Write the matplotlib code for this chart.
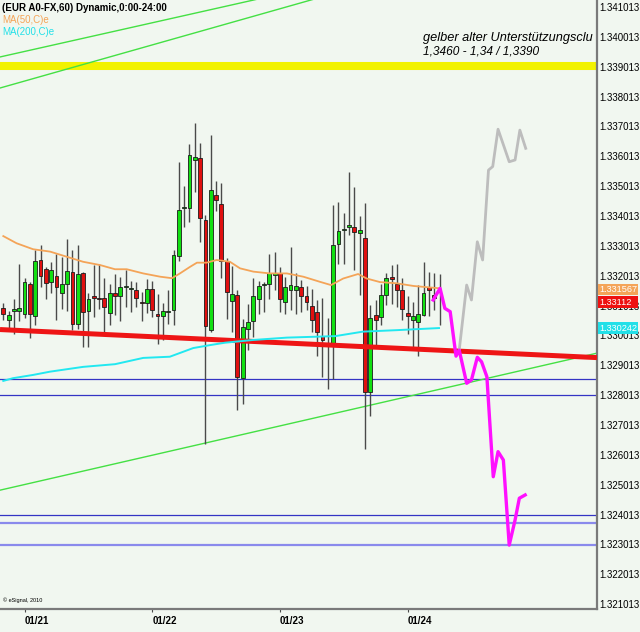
import matplotlib.pyplot as plt
from matplotlib.patches import Rectangle
from matplotlib.transforms import blended_transform_factory

plt.rcParams['font.family'] = ['Liberation Sans', 'DejaVu Sans']

# hourly EUR candles
opens = [1.33094, 1.33052, 1.33083, 1.33083, 1.33072, 1.33175, 1.33068, 1.33253, 1.33225, 1.33180,
         1.33200, 1.33144, 1.33172, 1.33215, 1.33041, 1.33212, 1.33083, 1.33135, 1.33128, 1.33128,
         1.33075, 1.33143, 1.33135, 1.33164, 1.33157, 1.33155, 1.33113, 1.33110, 1.33158, 1.33072,
         1.33068, 1.33079, 1.33085, 1.33269, 1.33428, 1.33429, 1.33588, 1.33594, 1.33387, 1.33019,
         1.33471, 1.33440, 1.33250, 1.33117, 1.33136, 1.32860, 1.33024, 1.33050, 1.33123, 1.33171,
         1.33175, 1.33205, 1.33211, 1.33112, 1.33152, 1.33152, 1.33162, 1.33134, 1.33099, 1.33081,
         1.33000, 1.32972, 1.32969, 1.33307, 1.33354, 1.33363, 1.33365, 1.33346, 1.33329, 1.32812,
         1.33070, 1.33064, 1.33136, 1.33198, 1.33175, 1.33153, 1.33077, 1.33052, 1.33045, 1.33071,
         1.33162, 1.33136, 1.33153]
highs = [1.33110, 1.33083, 1.33122, 1.33240, 1.33192, 1.33181, 1.33287, 1.33305, 1.33231, 1.33246,
         1.33274, 1.33265, 1.33323, 1.33287, 1.33304, 1.33214, 1.33144, 1.33237, 1.33239, 1.33192,
         1.33175, 1.33206, 1.33198, 1.33220, 1.33184, 1.33181, 1.33147, 1.33189, 1.33184, 1.33139,
         1.33110, 1.33153, 1.33289, 1.33583, 1.33501, 1.33644, 1.33714, 1.33647, 1.33404, 1.33672,
         1.33519, 1.33512, 1.33259, 1.33233, 1.33153, 1.33058, 1.33108, 1.33192, 1.33184, 1.33181,
         1.33274, 1.33281, 1.33231, 1.33198, 1.33298, 1.33211, 1.33186, 1.33166, 1.33158, 1.33119,
         1.33125, 1.33061, 1.33438, 1.33449, 1.33412, 1.33549, 1.33499, 1.33401, 1.33446, 1.33103,
         1.33119, 1.33175, 1.33209, 1.33237, 1.33242, 1.33192, 1.33133, 1.33114, 1.33170, 1.33248,
         1.33214, 1.33209, 1.33206]
lows = [1.33052, 1.33017, 1.33005, 1.33050, 1.33061, 1.32993, 1.33036, 1.33164, 1.33123, 1.33144,
        1.33052, 1.33091, 1.33083, 1.33019, 1.33024, 1.32963, 1.32963, 1.33064, 1.33091, 1.33013,
        1.33036, 1.33069, 1.33050, 1.33097, 1.33080, 1.33095, 1.33050, 1.33075, 1.33064, 1.32974,
        1.32985, 1.33041, 1.33036, 1.33251, 1.33363, 1.33382, 1.33482, 1.33315, 1.32639, 1.33013,
        1.33419, 1.33195, 1.33058, 1.33013, 1.32751, 1.32771, 1.32952, 1.32996, 1.33072, 1.33080,
        1.33122, 1.33153, 1.33080, 1.33072, 1.33086, 1.33072, 1.33080, 1.33086, 1.33013, 1.32932,
        1.32862, 1.32823, 1.32857, 1.33242, 1.33242, 1.33337, 1.33222, 1.33136, 1.32622, 1.32731,
        1.32969, 1.33036, 1.33103, 1.33106, 1.33097, 1.33052, 1.33005, 1.32957, 1.32932, 1.33066,
        1.33066, 1.33086, 1.33036]
closes = [1.33072, 1.33070, 1.33089, 1.33093, 1.33180, 1.33072, 1.33250, 1.33202, 1.33177, 1.33220,
          1.33164, 1.33173, 1.33218, 1.33041, 1.33206, 1.33080, 1.33122, 1.33128, 1.33122, 1.33097,
          1.33142, 1.33135, 1.33164, 1.33166, 1.33160, 1.33128, 1.33110, 1.33158, 1.33088, 1.33068,
          1.33083, 1.33081, 1.33271, 1.33421, 1.33430, 1.33607, 1.33600, 1.33393, 1.33033, 1.33490,
          1.33454, 1.33251, 1.33147, 1.33139, 1.32862, 1.33030, 1.33046, 1.33133, 1.33166, 1.33173,
          1.33211, 1.33211, 1.33123, 1.33164, 1.33170, 1.33166, 1.33134, 1.33114, 1.33052, 1.33014,
          1.32985, 1.32969, 1.33304, 1.33352, 1.33356, 1.33371, 1.33348, 1.33356, 1.32812, 1.33061,
          1.33052, 1.33136, 1.33192, 1.33189, 1.33153, 1.33091, 1.33068, 1.33068, 1.33072, 1.33142,
          1.33153, 1.33125, 1.33147]

# moving averages (bar index, value) as drawn
ma50_x = [0, 2.5, 5.6, 8.8, 11.9, 15.0, 18.2, 21.0, 23.2, 26.3, 29.5, 31.7, 33.2, 35.1, 36.4, 38.2,
          40.1, 42.6, 44.5, 47.0, 50.1, 53.3, 56.4, 59.5, 61.6, 63.9, 66.7, 68.3, 70.8, 73.9, 77.1, 80.2, 82.1]
ma50_y = [1.33334, 1.33310, 1.33290, 1.33282, 1.33265, 1.33248, 1.33237, 1.33223, 1.33223, 1.33209,
          1.33198, 1.33193, 1.33209, 1.33231, 1.33245, 1.33245, 1.33254, 1.33248, 1.33226, 1.33215,
          1.33209, 1.33209, 1.33198, 1.33181, 1.33170, 1.33192, 1.33207, 1.33192, 1.33180, 1.33176,
          1.33167, 1.33162, 1.33159]
ma200_x = [0, 1.8, 5.6, 8.8, 15.0, 21.0, 26.3, 31.3, 35.7, 38.9, 41.7, 46.9, 53.3, 62.4, 67.6, 74.0, 81.9]
ma200_y = [1.32849, 1.32858, 1.32869, 1.32880, 1.32896, 1.32905, 1.32926, 1.32930, 1.32959, 1.32969,
           1.32977, 1.32986, 1.32994, 1.32999, 1.33014, 1.33019, 1.33026]

# hand drawn scenarios
down_x = [80.8, 82.1, 83.0, 84.0, 85.1, 85.7, 87.1, 88.0, 89.1, 89.9, 90.9, 92.1, 93.0, 94.0, 95.1, 96.2, 97.0, 98.1]
down_y = [1.33120, 1.33159, 1.33092, 1.33081, 1.32932, 1.32952, 1.32841, 1.32852, 1.32928, 1.32913,
          1.32863, 1.32528, 1.32612, 1.32584, 1.32299, 1.32383, 1.32456, 1.32467]
up_x = [85.7, 87.1, 88.0, 89.1, 90.1, 91.2, 92.0, 93.0, 95.1, 96.2, 97.1, 98.2]
up_y = [1.32952, 1.33170, 1.33120, 1.33315, 1.33254, 1.33555, 1.33567, 1.33692, 1.33583, 1.33589, 1.33689, 1.33628]

# trend lines: (x0, x1), (y0, y1)
red_trend = ([-0.62, 111.6], [1.33021, 1.32927])
green_low = ([-0.62, 111.6], [1.32483, 1.32942])
green_up1 = ([-0.62, 111.6], [1.33934, 1.34383])
green_up2 = ([-0.62, 111.6], [1.33830, 1.34396])

yellow_level = 1.33904
dark_levels = [1.32854, 1.32801, 1.32400]
light_levels = [1.32374, 1.32299]

date_pos = [4, 28, 52, 76]
date_labels = ['01/21', '01/22', '01/23', '01/24']
ytick_vals = [1.321013 + k * 0.001 for k in range(21)]

# last value tags on the price scale
tag_vals = [1.33156, 1.33113, 1.33026]
tag_texts = ['1.331567', '1.33112', '1.330242']
tag_colors = ['#f4a458', '#ee1111', '#22e0e8']

BG = '#f1f7f0'

fig = plt.figure(figsize=(6.4, 6.32), dpi=100, facecolor=BG)
ax = fig.add_axes([0, 23 / 632, 597 / 640, 609 / 632])
ax.set_facecolor(BG)
ax.set_xlim(-0.62, 111.6)
ax.set_ylim(1.32085, 1.341248)

# levels and trend lines
ax.axhline(yellow_level, color='#f2f200', lw=5.8, zorder=1)
for lv in dark_levels:
    ax.axhline(lv, color='#3434c4', lw=0.9, zorder=1)
for lv in light_levels:
    ax.axhline(lv, color='#8a8aec', lw=1.6, zorder=1)
for xx, yy in (green_low, green_up1, green_up2):
    ax.plot(xx, yy, color='#44e044', lw=1.0, zorder=1)

# candles
for i in range(len(opens)):
    o, h, l, c = opens[i], highs[i], lows[i], closes[i]
    ax.vlines(i, l, h, color='#4a4a4a', lw=1.0, zorder=2)
    body = max(abs(c - o), 0.00003)
    ax.bar(i, body, bottom=min(o, c), width=0.72,
           color='#12e012' if c >= o else '#e01010',
           edgecolor='#1c1c1c', lw=0.6, zorder=3)

ax.plot(*red_trend, color='#ee1515', lw=3.6, zorder=4, solid_capstyle='butt')
ax.plot(ma50_x, ma50_y, color='#f4a458', lw=1.3, zorder=4)
ax.plot(ma200_x, ma200_y, color='#22e8f0', lw=1.4, zorder=4)
ax.plot(up_x, up_y, color='#bdbdbd', lw=2.0, zorder=5)
ax.plot(down_x, down_y, color='#ff10ff', lw=2.4, zorder=6)

# axes styling
for s in ('top', 'left'):
    ax.spines[s].set_visible(False)
for s in ('right', 'bottom'):
    ax.spines[s].set_color('#7a7a7a')
    ax.spines[s].set_linewidth(1.6)
ax.yaxis.tick_right()
ax.set_yticks(ytick_vals)
ax.set_yticklabels(['%.6f' % v for v in ytick_vals], fontsize=7)
ax.tick_params(axis='y', length=0, pad=1.5)
ax.set_xticks(date_pos)
ax.set_xticklabels(date_labels, fontsize=7, fontweight='bold', ha='left')
ax.tick_params(axis='x', length=2, pad=3, color='#4a4a4a')

# header texts
ax.text(0.003, 0.995, '(EUR A0-FX,60) Dynamic,0:00-24:00', transform=ax.transAxes,
        fontsize=7, fontweight='bold', va='top', ha='left')
ax.text(0.003, 0.975, 'MA(50,C)e', transform=ax.transAxes, color='#f4a458',
        fontsize=7, va='top', ha='left')
ax.text(0.003, 0.955, 'MA(200,C)e', transform=ax.transAxes, color='#22e0e8',
        fontsize=7, va='top', ha='left')
ax.text(0.709, 0.937, 'gelber alter Unterstützungsclu', transform=ax.transAxes,
        fontsize=9.2, style='italic', va='center', ha='left', clip_on=True)
ax.text(0.709, 0.916, '1,3460 - 1,34 / 1,3390', transform=ax.transAxes,
        fontsize=8.6, style='italic', va='center', ha='left', clip_on=True)
ax.text(0.005, 0.01, '© eSignal, 2010', transform=ax.transAxes, fontsize=4, va='bottom')

# tags drawn as solid boxes over the scale labels
tr = blended_transform_factory(ax.transAxes, ax.transData)
box_h = 0.00038
for y, txt, col in zip(tag_vals, tag_texts, tag_colors):
    ax.add_patch(Rectangle((1.002, y - box_h / 2), 0.066, box_h, transform=tr,
                           fc=col, ec='none', clip_on=False, zorder=7))
    ax.text(1.0035, y, txt, transform=tr, fontsize=6.6, color='white', va='center', ha='left',
            clip_on=False, zorder=8)

fig.savefig('out.png', dpi=100, facecolor=BG)
